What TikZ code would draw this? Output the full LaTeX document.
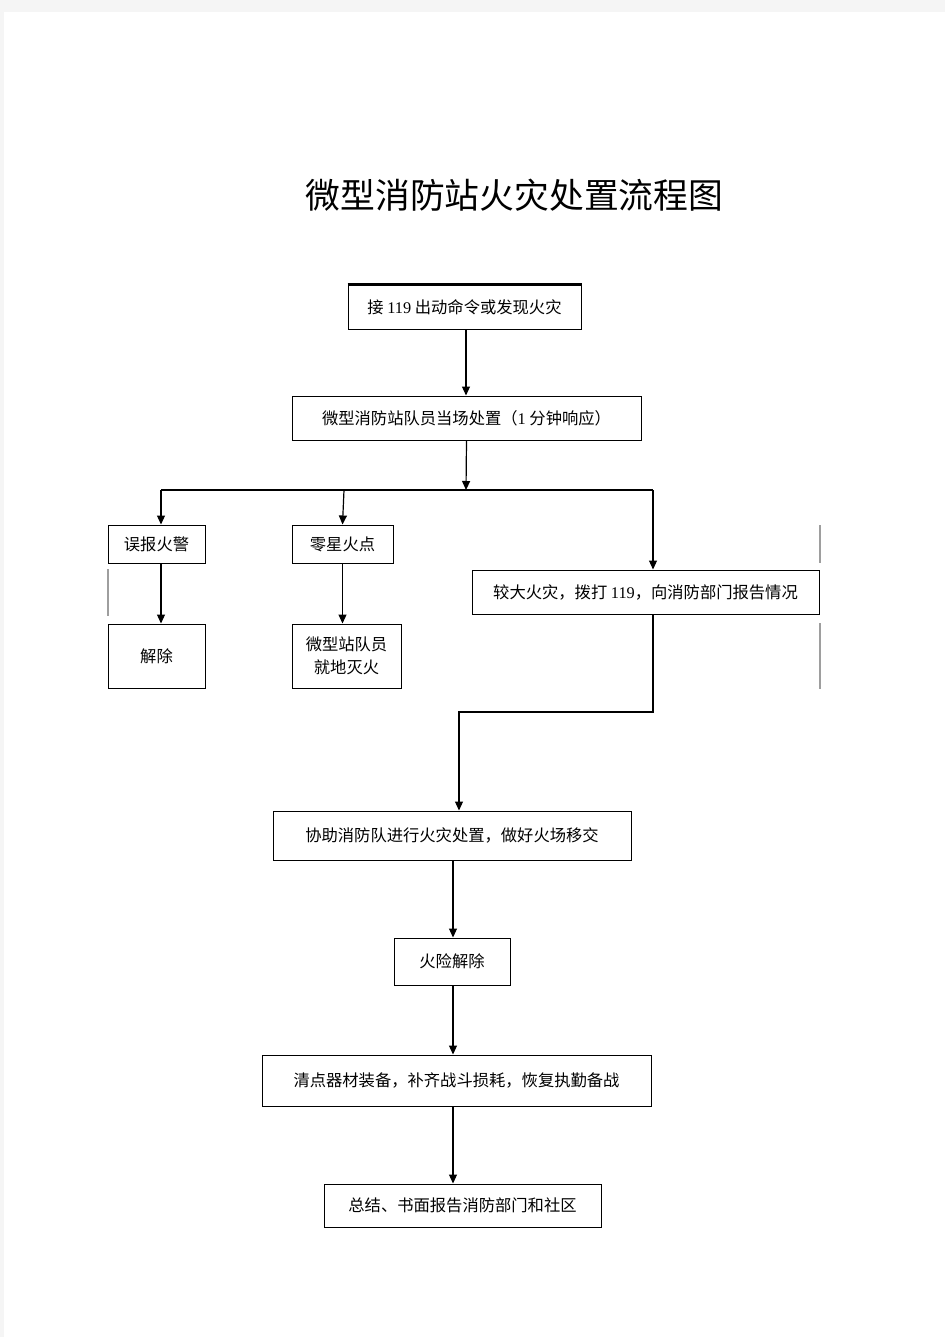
\documentclass[tikz,border=0pt]{standalone}
\usepackage{fontspec}
\setmainfont{Noto Sans CJK SC}
\newfontfamily\lat{Liberation Serif}
\usetikzlibrary{arrows.meta}
\tikzset{
  box/.style={draw,line width=1pt,inner sep=0pt,align=center,font=\fontsize{16.3}{23}\selectfont},
  arr/.style={line width=1.2pt,-{Triangle[length=9pt,width=8pt]}},
  ghost/.style={draw=black!38,line width=1.3pt}
}
\begin{document}
\begin{tikzpicture}[x=1pt,y=-1pt]
\fill[black!4] (0,0) rectangle (945,1337);
\fill[white] (4,12) rectangle (945,1337);
\useasboundingbox (0,0) rectangle (945,1337);
\node (title) at (514.5,195) {\fontsize{34.8}{40}\selectfont 微型消防站火灾处置流程图};
\node[box,minimum width=233pt,minimum height=44pt] (recv) at (464.5,307) {接 {\lat 119} 出动命令或发现火灾};
\draw[line width=2.2pt] (recv.north west) -- (recv.north east);
\node[box,minimum width=349pt,minimum height=44pt] (onsite) at (466.5,418) {微型消防站队员当场处置（{\lat 1} 分钟响应）};
\node[box,minimum width=97pt,minimum height=38pt] (false) at (156.5,544) {误报火警};
\node[box,minimum width=101pt,minimum height=38pt] (spot) at (342.5,544) {零星火点};
\node[box,minimum width=347pt,minimum height=44pt] (big) at (645.5,592) {较大火灾，拨打 {\lat 119}，向消防部门报告情况};
\node[box,minimum width=97pt,minimum height=64pt] (lift) at (156.5,656) {解除};
\node[box,minimum width=109pt,minimum height=64pt] (put) at (346.5,656) {微型站队员\\就地灭火};
\node[box,minimum width=358pt,minimum height=49pt] (assist) at (452,835.5) {协助消防队进行火灾处置，做好火场移交};
\node[box,minimum width=116pt,minimum height=47pt] (clear) at (452,961.5) {火险解除};
\node[box,minimum width=389pt,minimum height=51pt] (check) at (456.5,1080.5) {清点器材装备，补齐战斗损耗，恢复执勤备战};
\node[box,minimum width=277pt,minimum height=43pt] (sum) at (462.5,1205.5) {总结、书面报告消防部门和社区};
\coordinate (split) at (466,490);
\coordinate (turn) at (653,712);
\draw[arr] ([xshift=1.5pt]recv.south) -- ([xshift=1.5pt]recv.south |- onsite.north);
\draw[arr] (onsite.south) -- (split);
\draw[line width=1.2pt] ([xshift=4.5pt]false.north |- split) -- (turn |- split);
\draw[arr] ([xshift=4.5pt]false.north |- split) -- ([xshift=4.5pt]false.north);
\draw[arr] ([xshift=1.5pt]spot.north |- split) -- (spot.north);
\draw[arr] (turn |- split) -- (turn |- big.north);
\draw[arr] ([xshift=4.5pt]false.south) -- ([xshift=4.5pt]false.south |- lift.north);
\draw[arr] (spot.south) -- (spot.south |- put.north);
\draw[arr] (turn |- big.south) -- (turn) -- ([xshift=7pt]assist.north |- turn) -- ([xshift=7pt]assist.north);
\draw[arr] ([xshift=1pt]assist.south) -- ([xshift=1pt]clear.north);
\draw[arr] ([xshift=1pt]clear.south) -- ([xshift=1pt]clear.south |- check.north);
\draw[arr] ([xshift=1pt]clear.south |- check.south) -- ([xshift=1pt]clear.south |- sum.north);
\draw[ghost] (108,569) -- (108,616);
\draw[ghost] (820,525) -- (820,563);
\draw[ghost] (820,623) -- (820,689);
\end{tikzpicture}
\end{document}
